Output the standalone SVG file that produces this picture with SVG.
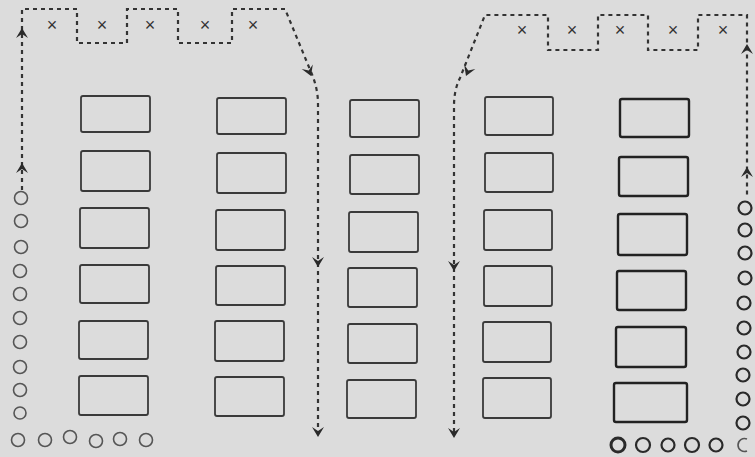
<svg xmlns="http://www.w3.org/2000/svg" width="755" height="457" viewBox="0 0 755 457">
<style>
.bg{fill:#dcdcdc}
.box{fill:none;stroke:#3a3a3a;stroke-width:1.8}
.boxd{fill:none;stroke:#222;stroke-width:2.4}
.c{fill:none;stroke:#555;stroke-width:1.6}
.cd{fill:none;stroke:#2a2a2a;stroke-width:2.2}
.dash{fill:none;stroke:#333;stroke-width:2.2;stroke-dasharray:4 4}
.ah{fill:#2a2a2a}
.x{font-family:"Liberation Sans",Arial,sans-serif;font-size:18px;fill:#333;text-anchor:middle}
</style>
<defs>
<path id="ah" d="M0,0 L-6,-10 L0,-6 L6,-10 Z"/>
</defs>
<rect class="bg" x="0" y="0" width="755" height="457"/>

<g id="connectors">
<path class="dash" d="M22,190 V9 H77 V43 H127 V9 H178 V43 H232 V9 H285 L311,72 Q318,88 318,104 V432"/>
<path class="dash" d="M454,432 V106 Q454,90 460,78 L485,15 H548 V50 H598 V15 H648 V50 H698 V15 H747 V196"/>
<g class="ah">
<use href="#ah" transform="translate(22,28) rotate(180)"/>
<use href="#ah" transform="translate(22,163) rotate(180)"/>
<use href="#ah" transform="translate(311,76) rotate(-22)"/>
<use href="#ah" transform="translate(318,267)"/>
<use href="#ah" transform="translate(318,437)"/>
<use href="#ah" transform="translate(747,44) rotate(180)"/>
<use href="#ah" transform="translate(747,167) rotate(180)"/>
<use href="#ah" transform="translate(466,76) rotate(22)"/>
<use href="#ah" transform="translate(454,271)"/>
<use href="#ah" transform="translate(454,438)"/>
</g>
</g>

<g id="marks">
<text class="x" x="52" y="31">×</text>
<text class="x" x="102" y="31">×</text>
<text class="x" x="150" y="31">×</text>
<text class="x" x="205" y="31">×</text>
<text class="x" x="253" y="31">×</text>
<text class="x" x="522" y="36">×</text>
<text class="x" x="572" y="36">×</text>
<text class="x" x="620" y="36">×</text>
<text class="x" x="673" y="36">×</text>
<text class="x" x="723" y="36">×</text>
</g>

<g id="col1">
<rect class="box" x="81" y="96" width="69" height="36" rx="2"/>
<rect class="box" x="81" y="151" width="69" height="40" rx="2"/>
<rect class="box" x="80" y="208" width="69" height="40" rx="2"/>
<rect class="box" x="80" y="265" width="69" height="38" rx="2"/>
<rect class="box" x="79" y="321" width="69" height="38" rx="2"/>
<rect class="box" x="79" y="376" width="69" height="39" rx="2"/>
</g>
<g id="col2">
<rect class="box" x="217" y="98" width="69" height="36" rx="2"/>
<rect class="box" x="217" y="153" width="69" height="40" rx="2"/>
<rect class="box" x="216" y="210" width="69" height="40" rx="2"/>
<rect class="box" x="216" y="266" width="69" height="39" rx="2"/>
<rect class="box" x="215" y="321" width="69" height="40" rx="2"/>
<rect class="box" x="215" y="377" width="69" height="39" rx="2"/>
</g>
<g id="col3">
<rect class="box" x="350" y="100" width="69" height="37" rx="2"/>
<rect class="box" x="350" y="155" width="69" height="39" rx="2"/>
<rect class="box" x="349" y="212" width="69" height="40" rx="2"/>
<rect class="box" x="348" y="268" width="69" height="39" rx="2"/>
<rect class="box" x="348" y="324" width="69" height="39" rx="2"/>
<rect class="box" x="347" y="380" width="69" height="38" rx="2"/>
</g>
<g id="col4">
<rect class="box" x="485" y="97" width="68" height="38" rx="2"/>
<rect class="box" x="485" y="153" width="68" height="39" rx="2"/>
<rect class="box" x="484" y="210" width="68" height="40" rx="2"/>
<rect class="box" x="484" y="266" width="68" height="40" rx="2"/>
<rect class="box" x="483" y="322" width="68" height="40" rx="2"/>
<rect class="box" x="483" y="378" width="68" height="40" rx="2"/>
</g>
<g id="col5">
<rect class="boxd" x="620" y="99" width="69" height="38" rx="2"/>
<rect class="boxd" x="619" y="157" width="69" height="39" rx="2"/>
<rect class="boxd" x="618" y="214" width="69" height="41" rx="2"/>
<rect class="boxd" x="617" y="271" width="69" height="39" rx="2"/>
<rect class="boxd" x="616" y="327" width="70" height="40" rx="2"/>
<rect class="boxd" x="614" y="383" width="73" height="39" rx="2"/>
</g>

<g id="circles-left">
<circle class="c" cx="21" cy="198" r="6.5"/>
<circle class="c" cx="21" cy="221" r="6.5"/>
<circle class="c" cx="21" cy="247" r="6.5"/>
<circle class="c" cx="20" cy="271" r="6.5"/>
<circle class="c" cx="20" cy="294" r="6.5"/>
<circle class="c" cx="20" cy="318" r="6.5"/>
<circle class="c" cx="20" cy="342" r="6.5"/>
<circle class="c" cx="20" cy="367" r="6.5"/>
<circle class="c" cx="20" cy="390" r="6.5"/>
<circle class="c" cx="20" cy="413" r="6"/>
<circle class="c" cx="18" cy="440" r="6.5"/>
<circle class="c" cx="45" cy="440" r="6.5"/>
<circle class="c" cx="70" cy="437" r="6.5"/>
<circle class="c" cx="96" cy="441" r="6.5"/>
<circle class="c" cx="120" cy="439" r="6.5"/>
<circle class="c" cx="146" cy="440" r="6.5"/>
</g>
<g id="circles-right">
<circle class="cd" cx="745" cy="208" r="6.5"/>
<circle class="cd" cx="745" cy="230" r="6.5"/>
<circle class="cd" cx="745" cy="253" r="6.5"/>
<circle class="cd" cx="745" cy="278" r="6.5"/>
<circle class="cd" cx="744" cy="303" r="6.5"/>
<circle class="cd" cx="744" cy="328" r="6.5"/>
<circle class="cd" cx="744" cy="352" r="6.5"/>
<circle class="cd" cx="743" cy="375" r="6.5"/>
<circle class="cd" cx="743" cy="399" r="6.5"/>
<circle class="cd" cx="743" cy="423" r="6.5"/>
<circle class="cd" cx="618" cy="445" r="7" style="stroke-width:3"/>
<circle class="cd" cx="643" cy="445" r="7"/>
<circle class="cd" cx="668" cy="445" r="6.5"/>
<circle class="cd" cx="692" cy="445" r="7"/>
<circle class="cd" cx="716" cy="445" r="6.5"/>
<path class="c" d="M747,439 A6.5,6.5 0 1 0 747,451"/>
</g>
</svg>
